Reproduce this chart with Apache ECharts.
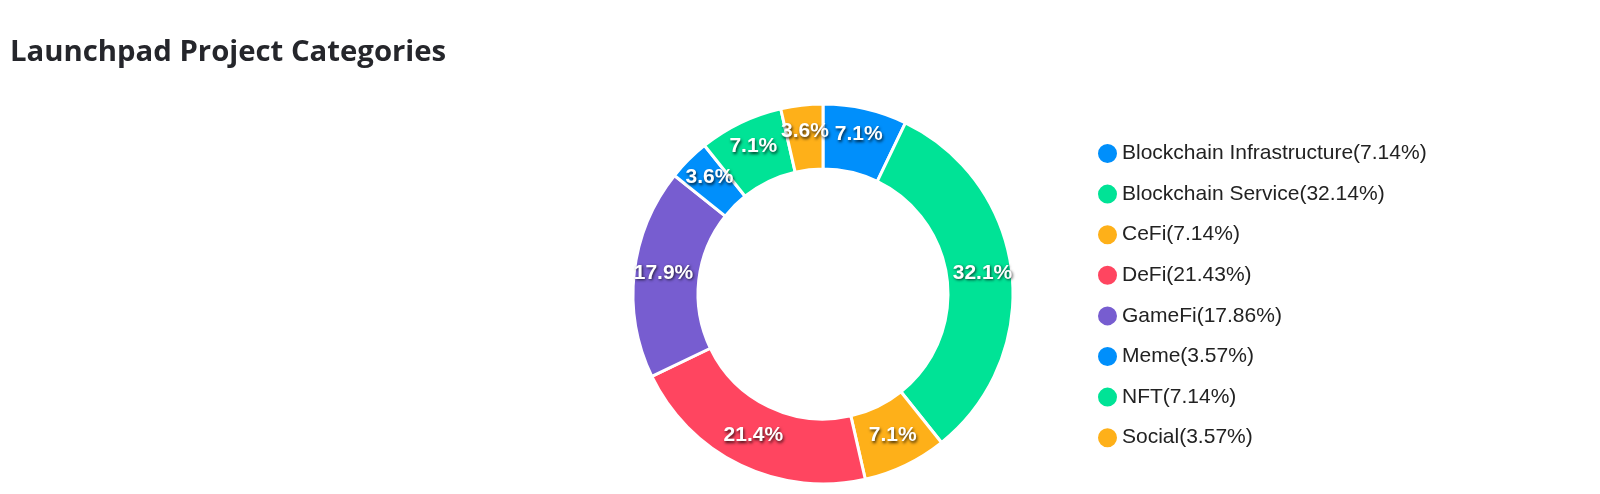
<!DOCTYPE html>
<html>
<head>
<meta charset="utf-8">
<script src="https://cdn.jsdelivr.net/npm/echarts@6/dist/echarts.min.js"></script>
<style>
html,body{margin:0;padding:0;background:#fff;}
#chart{width:1600px;height:494px;}
</style>
</head>
<body>
<div id="chart"></div>
<script>
const categories = ['Blockchain Infrastructure','Blockchain Service','CeFi','DeFi','GameFi','Meme','NFT','Social'];
const counts = [2, 9, 2, 6, 5, 1, 2, 1];
const colors = ['#008FFB','#00E396','#FEB019','#FF4560','#775DD0','#008FFB','#00E396','#FEB019'];
const titleText = 'Launchpad Project Categories';

const total = counts.reduce((a,b)=>a+b,0);
const pct = {};
categories.forEach((c,i)=>{ pct[c] = counts[i]/total*100; });

const chart = echarts.init(document.getElementById('chart'));
chart.setOption({
  animation:false,
  title:{
    text:titleText,
    left:5, top:33,
    textStyle:{fontFamily:'Open Sans', fontWeight:'bold', fontSize:29.3, color:'#25262b'}
  },
  legend:{
    orient:'vertical',
    left:1091, top:137,
    icon:'circle',
    itemWidth:21, itemHeight:21, itemGap:17.6,
    textStyle:{fontFamily:'Liberation Sans, Arial', fontSize:21, color:'#222', padding:[0,0,0,-1]},
    formatter: n => n + '(' + pct[n].toFixed(2) + '%)'
  },
  series:[{
    type:'pie',
    center:[823,294],
    radius:[125,190],
    startAngle:90,
    clockwise:true,
    itemStyle:{borderColor:'#fff', borderWidth:3},
    label:{
      show:true, position:'inside',
      formatter: p => p.percent.toFixed(1) + '%',
      fontFamily:'Liberation Sans, Arial', fontWeight:'bold', fontSize:21, color:'#fff',
      textShadowColor:'rgba(0,0,0,0.75)', textShadowBlur:3, textShadowOffsetX:1, textShadowOffsetY:1.5
    },
    labelLayout:{dy:-3},
    labelLine:{show:false},
    emphasis:{disabled:true},
    data: categories.map((c,i)=>({name:c, value:counts[i], itemStyle:{color:colors[i]}}))
  }]
});
</script>
</body>
</html>
